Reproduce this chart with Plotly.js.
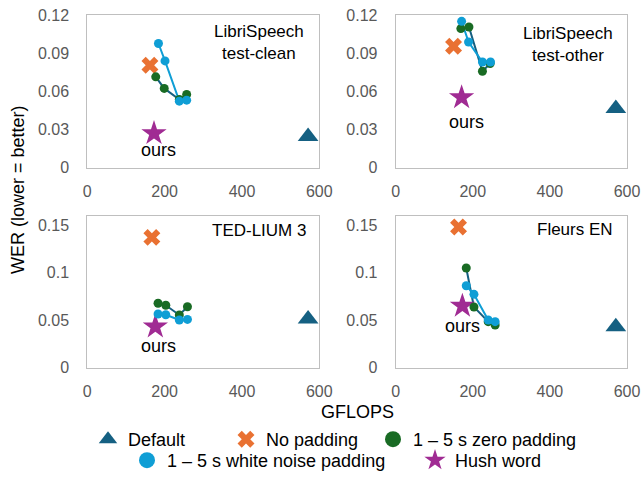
<!DOCTYPE html>
<html>
<head>
<meta charset="utf-8">
<script src="https://cdn.plot.ly/plotly-3.0.1.min.js"></script>
<style>html,body{margin:0;padding:0;background:#fff;}#chart{width:644px;height:479px;}</style>
</head>
<body>
<div id="chart"></div>
<script>
// ---- data (GFLOPS, WER) ----
const datasets = ['LibriSpeech<br>test-clean', 'LibriSpeech<br>test-other', 'TED-LIUM 3', 'Fleurs EN'];
const seriesNames = ['Default', 'No padding', '1 – 5 s zero padding', '1 – 5 s white noise padding', 'Hush word'];

const defaultX = [571, 571, 571, 571];
const defaultY = [0.0246, 0.0466, 0.0512, 0.0431];

const noPadX = [162, 150, 167, 163];
const noPadY = [0.0805, 0.0955, 0.137, 0.148];

const zeroX = [[177, 199, 238, 257], [169, 190, 225, 245], [183, 203, 238, 259], [183, 203, 240, 258]];
const zeroY = [[0.0714, 0.0623, 0.0536, 0.0576], [0.1093, 0.1106, 0.0758, 0.0819], [0.0677, 0.0656, 0.0554, 0.0641], [0.1048, 0.0638, 0.0484, 0.0449]];

const whiteX = [[184, 201, 238, 257], [171, 189, 225, 246], [183, 203, 238, 259], [183, 203, 240, 258]];
const whiteY = [[0.0976, 0.0839, 0.0523, 0.0531], [0.115, 0.0988, 0.0831, 0.0831], [0.0564, 0.0557, 0.0501, 0.0508], [0.0862, 0.0771, 0.0501, 0.0484]];

const hushX = [172.5, 171, 176, 173];
const hushY = [0.027, 0.0552, 0.0431, 0.0649];

const oursLabelX = [183, 183, 185, 172];
const oursLabelY = [0.0139, 0.0361, 0.0228, 0.0438];

const xTicks = [0, 200, 400, 600];
const yTicksTop = [0, 0.03, 0.06, 0.09, 0.12];
const yTicksBottom = [0, 0.05, 0.1, 0.15];

// ---- styling ----
const C = {def: '#156082', nopad: '#E97132', zero: '#196B24', white: '#0F9ED5', hush: '#A02B93'};
const FONT = 'Liberation Sans, Arial, sans-serif';
const W = 644, H = 479;
const px = v => v / W, py = v => 1 - v / H;

const legendMarkers = [
  {symbol: 'triangle-up', size: 16, color: C.def},
  {symbol: 'x', size: 15, color: C.nopad},
  {symbol: 'circle', size: 16, color: C.zero},
  {symbol: 'circle', size: 16, color: C.white},
  {symbol: 'star', size: 16, color: C.hush}
];
const legendIds = ['legend', 'legend2', 'legend3', 'legend4', 'legend5'];

const traces = [];
for (let i = 0; i < 4; i++) {
  const ax = i === 0 ? '' : String(i + 1);
  const xa = 'x' + ax, ya = 'y' + ax;
  traces.push({x: zeroX[i], y: zeroY[i], xaxis: xa, yaxis: ya, mode: 'lines', line: {color: C.def, width: 2}, showlegend: false, hoverinfo: 'skip'});
  traces.push({x: whiteX[i], y: whiteY[i], xaxis: xa, yaxis: ya, mode: 'lines', line: {color: C.white, width: 2}, showlegend: false, hoverinfo: 'skip'});
  traces.push({x: [defaultX[i]], y: [defaultY[i]], xaxis: xa, yaxis: ya, mode: 'markers', showlegend: false, marker: {symbol: 'triangle-up', size: 18, color: C.def}});
  traces.push({x: [noPadX[i]], y: [noPadY[i]], xaxis: xa, yaxis: ya, mode: 'markers', showlegend: false, marker: {symbol: 'x', size: 15, color: C.nopad}});
  traces.push({x: [hushX[i]], y: [hushY[i]], xaxis: xa, yaxis: ya, mode: 'markers', showlegend: false, marker: {symbol: 'star', size: 19, color: C.hush}});
  traces.push({x: zeroX[i], y: zeroY[i], xaxis: xa, yaxis: ya, mode: 'markers', showlegend: false, marker: {symbol: 'circle', size: 9, color: C.zero}});
  traces.push({x: whiteX[i], y: whiteY[i], xaxis: xa, yaxis: ya, mode: 'markers', showlegend: false, marker: {symbol: 'circle', size: 9, color: C.white}});
}
// legend entries (no data of their own)
for (let k = 0; k < 5; k++) {
  traces.push({x: [null], y: [null], mode: 'markers', name: seriesNames[k], legend: legendIds[k], showlegend: true, marker: legendMarkers[k]});
}

const xDomL = [px(87.3), px(319.3)], xDomR = [px(395.7), px(627)];
const yDomT = [py(167.7), py(15)], yDomB = [py(367.7), py(215.5)];

function xAxis(dom, anchor) {
  return {domain: dom, anchor: anchor, range: [0, 600], tickvals: xTicks, showline: true, mirror: true, linecolor: '#bfbfbf', linewidth: 1,
    showgrid: false, zeroline: false, ticks: 'outside', ticklen: 9, tickcolor: 'rgba(0,0,0,0)', tickfont: {family: FONT, size: 16, color: '#595959'}, automargin: false, fixedrange: true};
}
function yAxis(dom, anchor, rng, tv) {
  return {domain: dom, anchor: anchor, range: rng, tickvals: tv, showline: true, mirror: true, linecolor: '#bfbfbf', linewidth: 1,
    showgrid: false, zeroline: false, ticks: 'outside', ticklen: 14, tickcolor: 'rgba(0,0,0,0)', tickfont: {family: FONT, size: 16, color: '#595959'}, automargin: false, fixedrange: true};
}

const annotations = [];
const labelPos = [[259, 42.5], [567.7, 44.7], [259, 230.7], [575, 230]];
for (let i = 0; i < 4; i++) {
  const ax = i === 0 ? '' : String(i + 1);
  annotations.push({text: datasets[i], xref: 'paper', yref: 'paper', x: px(labelPos[i][0]), y: py(labelPos[i][1]), xanchor: 'center', yanchor: 'middle',
    showarrow: false, align: 'center', font: {family: FONT, size: 17, color: '#000'}});
  annotations.push({text: 'ours', xref: 'x' + ax, yref: 'y' + ax, x: oursLabelX[i], y: oursLabelY[i], xanchor: 'center', yanchor: 'middle', showarrow: false,
    font: {family: FONT, size: 18, color: '#000'}});
}
annotations.push({text: 'GFLOPS', xref: 'paper', yref: 'paper', x: px(357), y: py(412), xanchor: 'center', yanchor: 'middle', showarrow: false,
  font: {family: FONT, size: 18, color: '#000'}});
annotations.push({text: 'WER (lower = better)', xref: 'paper', yref: 'paper', x: px(18), y: py(190), xanchor: 'center', yanchor: 'middle', textangle: -90, showarrow: false,
  font: {family: FONT, size: 18, color: '#000'}});

function leg(xPix, row) {
  const base = {orientation: 'h', x: px(xPix), xanchor: 'left', font: {family: FONT, size: 18, color: '#000'}, bgcolor: 'rgba(0,0,0,0)', itemclick: false};
  if (row === 1) { base.y = py(421); base.yanchor = 'top'; }
  else { base.y = 0; base.yanchor = 'bottom'; }
  return base;
}

const layout = {
  width: W, height: H, margin: {l: 0, r: 0, t: 0, b: 0}, paper_bgcolor: '#fff', plot_bgcolor: '#fff',
  font: {family: FONT},
  xaxis: xAxis(xDomL, 'y'), yaxis: yAxis(yDomT, 'x', [0, 0.12], yTicksTop),
  xaxis2: xAxis(xDomR, 'y2'), yaxis2: yAxis(yDomT, 'x2', [0, 0.12], yTicksTop),
  xaxis3: xAxis(xDomL, 'y3'), yaxis3: yAxis(yDomB, 'x3', [0, 0.16], yTicksBottom),
  xaxis4: xAxis(xDomR, 'y4'), yaxis4: yAxis(yDomB, 'x4', [0, 0.16], yTicksBottom),
  annotations: annotations,
  legend: leg(88, 1),
  legend2: leg(226, 1),
  legend3: leg(373, 1),
  legend4: leg(127, 2),
  legend5: leg(415, 2),
  showlegend: true
};

Plotly.newPlot('chart', traces, layout, {displayModeBar: false, staticPlot: true});
</script>
</body>
</html>
